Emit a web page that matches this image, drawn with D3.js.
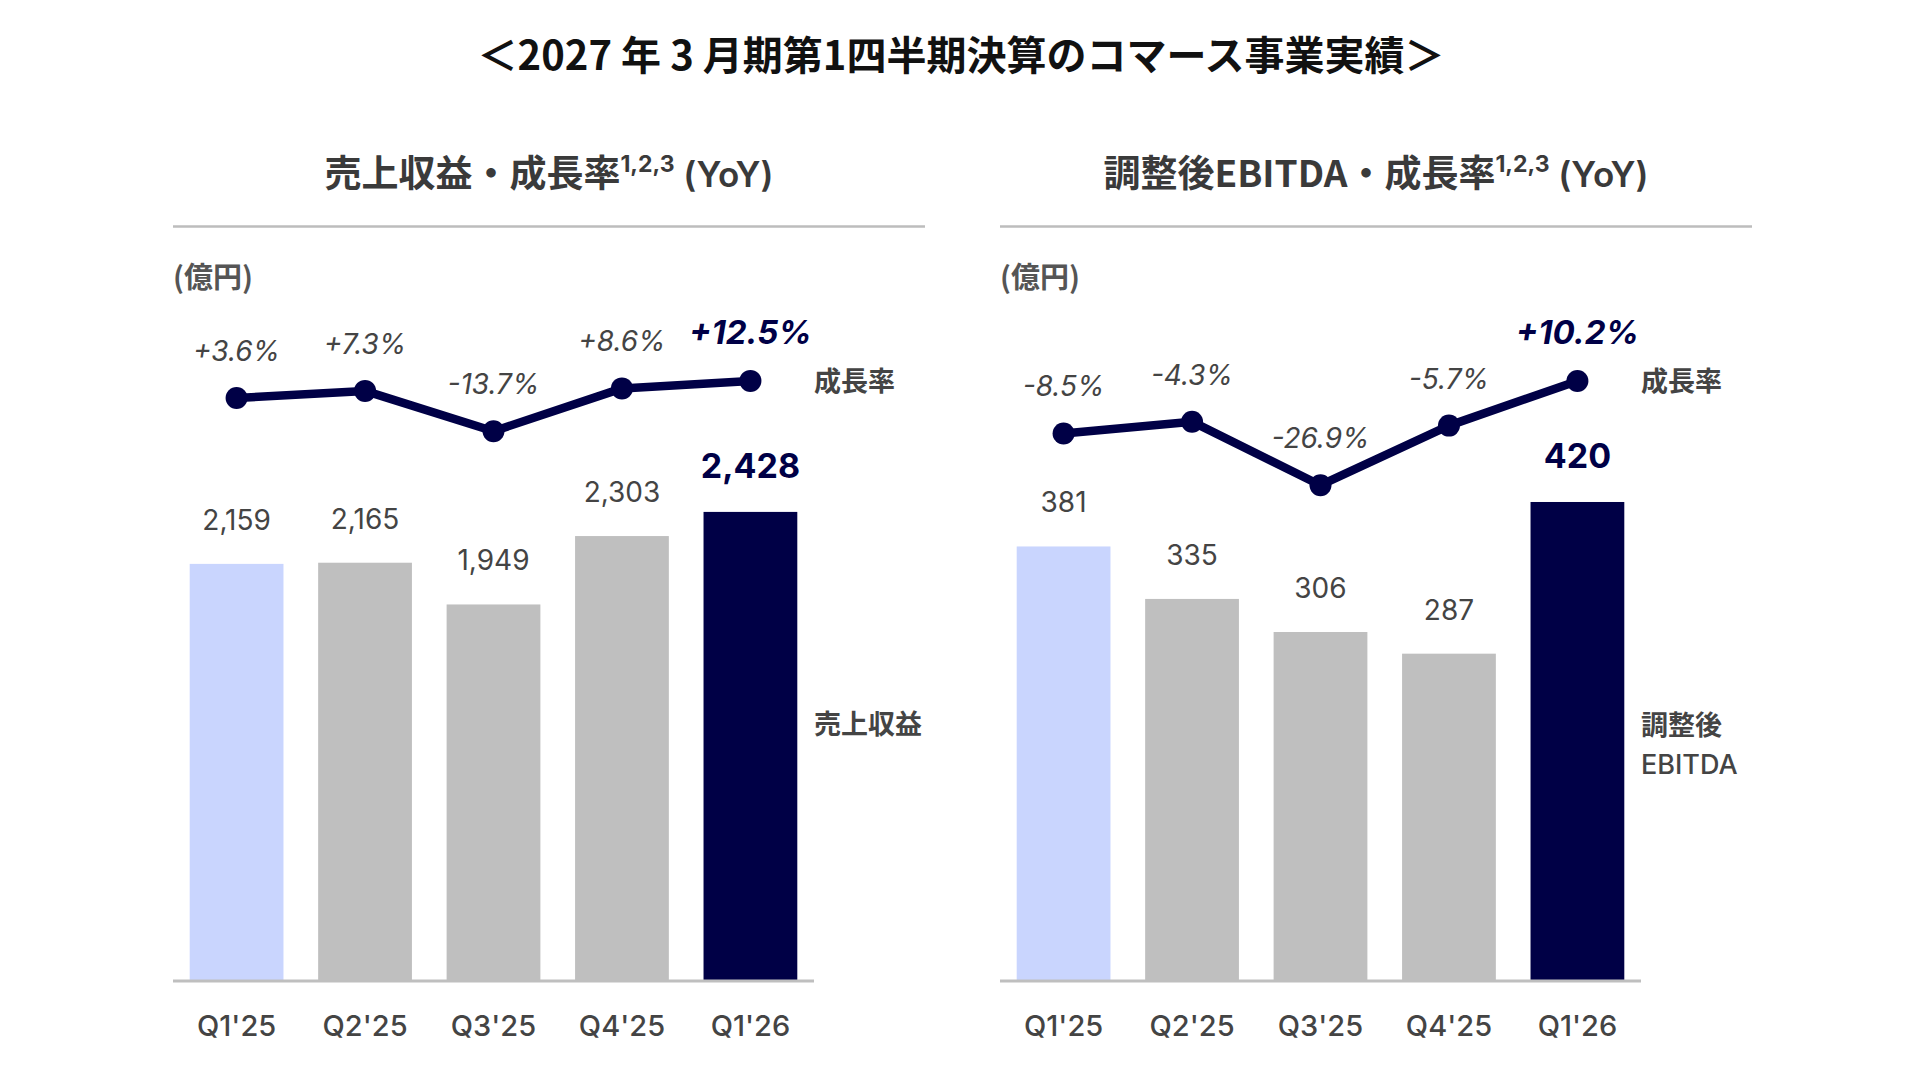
<!DOCTYPE html>
<html><head><meta charset="utf-8">
<script src="https://cdn.jsdelivr.net/npm/d3@7/dist/d3.min.js"></script>
<style>
html,body{margin:0;padding:0;background:#fff;}
svg{display:block;}
text{font-family:"Noto Sans CJK JP","Noto Sans",sans-serif;}
.num{font-family:Inter,Lato,"Noto Sans CJK JP",sans-serif;}
</style></head>
<body>
<svg id="c" width="1920" height="1080"></svg>
<script>
// ---- data ----
const categories = ["Q1'25","Q2'25","Q3'25","Q4'25","Q1'26"];
const revenue = [2159, 2165, 1949, 2303, 2428];
const revenueGrowth = [3.6, 7.3, -13.7, 8.6, 12.5];
const ebitda = [381, 335, 306, 287, 420];
const ebitdaGrowth = [-8.5, -4.3, -26.9, -5.7, 10.2];
const revenueLabels = ["2,159","2,165","1,949","2,303","2,428"];
const ebitdaLabels = ["381","335","306","287","420"];
const revenueGrowthLabels = ["+3.6%","+7.3%","-13.7%","+8.6%","+12.5%"];
const ebitdaGrowthLabels = ["-8.5%","-4.3%","-26.9%","-5.7%","+10.2%"];
const mainTitle = "＜2027 年 3 月期第1四半期決算のコマース事業実績＞";
const unitLabel = "(億円)";
const growthLegend = "成長率";

const NAVY = "#000046", GRAY = "#bfbfbf", LIGHT = "#c9d5fe", TXT = "#444444";
const barColors = [LIGHT, GRAY, GRAY, GRAY, NAVY];
const NUMFONT = 'Inter,Lato,"Noto Sans CJK JP",sans-serif';

const svg = d3.select("#c");

svg.append("text").attr("x", 961).attr("y", 70).attr("text-anchor","middle")
  .attr("font-size", 40).attr("font-weight", 700).attr("fill", "#111").text(mainTitle);

function panel(opt){
  const g = svg.append("g").attr("transform", `translate(${opt.ox},0)`);
  const left = 173, right = 925, plotRight = 814, base = 981;
  // panel title
  const t = g.append("text").attr("x", (left+right)/2).attr("y", 187).attr("text-anchor","middle")
    .attr("fill", "#3a3a3a");
  t.append("tspan").attr("font-size", 37).attr("font-weight", 700).text(opt.title);
  t.append("tspan").attr("font-size", 23).attr("font-weight", 700).attr("dy", -15)
    .style("font-family", NUMFONT).text("1,2,3");
  t.append("tspan").attr("font-size", 35).attr("font-weight", 600).attr("dy", 15)
    .style("font-family", NUMFONT).text(" (YoY)");
  g.append("line").attr("x1", left).attr("x2", right).attr("y1", 226.5).attr("y2", 226.5)
    .attr("stroke", "#bdbdbd").attr("stroke-width", 2.5);
  g.append("text").attr("x", left).attr("y", 288).attr("font-size", 29).attr("font-weight", 700)
    .attr("fill", "#555").text(unitLabel);

  const x = d3.scaleBand().domain(categories).range([left, plotRight]).paddingInner(0.27).paddingOuter(0.13);
  const y = d3.scaleLinear().domain(opt.barDomain).range([base, opt.barTop]);
  const yg = d3.scaleLinear().domain(opt.lineDomain).range(opt.lineRange);

  g.selectAll("rect.bar").data(opt.values).join("rect").attr("class","bar")
    .attr("x", (d,i)=>x(categories[i])).attr("width", x.bandwidth())
    .attr("y", d=>y(d)).attr("height", d=>base - y(d)).attr("fill", (d,i)=>barColors[i]);

  // baseline axis
  const axis = g.append("g").attr("transform", `translate(0,${base})`)
    .call(d3.axisBottom(x).tickSize(0).tickPadding(34));
  axis.select(".domain").attr("stroke", GRAY).attr("stroke-width", 3)
    .attr("d", `M${left},0H${plotRight}`);
  axis.selectAll("text").attr("font-size", 29).attr("font-weight", 500)
    .attr("fill", TXT).style("font-family", NUMFONT);

  // value labels
  g.selectAll("text.val").data(opt.values).join("text").attr("class","val num")
    .attr("x", (d,i)=>x(categories[i]) + x.bandwidth()/2).attr("y", d=>y(d) - 34)
    .attr("text-anchor","middle")
    .attr("font-size", (d,i)=> i===4 ? 34 : 28)
    .attr("font-weight", (d,i)=> i===4 ? 700 : 400)
    .attr("fill", (d,i)=> i===4 ? NAVY : TXT)
    .text((d,i)=>opt.labels[i]);

  // growth line
  const cx = i => x(categories[i]) + x.bandwidth()/2;
  const line = d3.line().x((d,i)=>cx(i)).y(d=>yg(d));
  g.append("path").datum(opt.growth).attr("d", line).attr("fill","none")
    .attr("stroke", NAVY).attr("stroke-width", 8.5).attr("stroke-linejoin","round");
  g.selectAll("circle.pt").data(opt.growth).join("circle").attr("class","pt")
    .attr("cx", (d,i)=>cx(i)).attr("cy", d=>yg(d)).attr("r", 11).attr("fill", NAVY);
  g.selectAll("text.gr").data(opt.growth).join("text").attr("class","gr num")
    .attr("x", (d,i)=>cx(i)).attr("y", d=>yg(d) - 37)
    .attr("text-anchor","middle").attr("font-style","italic")
    .attr("font-size", (d,i)=> i===4 ? 33 : 28)
    .attr("font-weight", (d,i)=> i===4 ? 700 : 400)
    .attr("fill", (d,i)=> i===4 ? NAVY : TXT)
    .text((d,i)=>opt.growthLabels[i]);

  // legends
  g.append("text").attr("x", plotRight).attr("y", 391).attr("font-size", 27).attr("font-weight", 700)
    .attr("fill", TXT).text(growthLegend);
  opt.seriesName.forEach((s,k)=>{
    g.append("text").attr("x", plotRight).attr("y", opt.seriesY + k*39).attr("font-size", 27)
      .attr("fill", TXT)
      .style("font-family", /^[A-Z]+$/.test(s) ? NUMFONT : null)
      .attr("font-weight", /^[A-Z]+$/.test(s) ? 500 : 700).text(s);
  });
}

panel({ox:0, title:"売上収益・成長率", values:revenue, labels:revenueLabels,
  growth:revenueGrowth, growthLabels:revenueGrowthLabels,
  barDomain:[0,3000], barTop:981-3000*0.1932,
  lineDomain:[-20,20], lineRange:[443.3,366.5],
  seriesName:["売上収益"], seriesY:734});
panel({ox:827, title:"調整後EBITDA・成長率", values:ebitda, labels:ebitdaLabels,
  growth:ebitdaGrowth, growthLabels:ebitdaGrowthLabels,
  barDomain:[0,500], barTop:981-500*1.1405,
  lineDomain:[-30,20], lineRange:[493.9,353.4],
  seriesName:["調整後","EBITDA"], seriesY:735});
</script>
</body></html>
